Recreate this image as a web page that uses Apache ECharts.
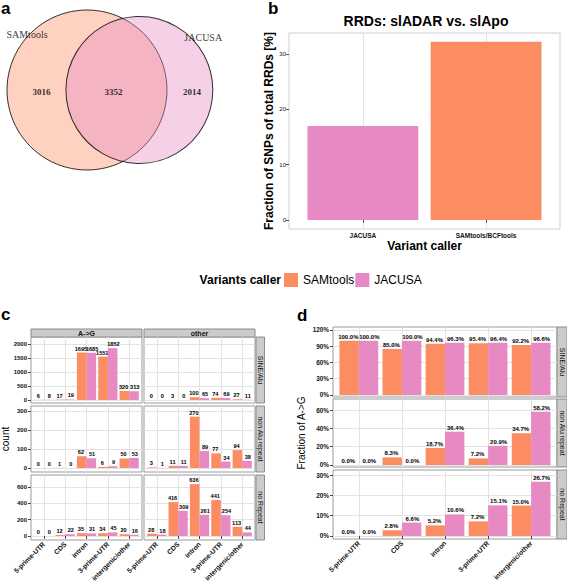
<!DOCTYPE html>
<html>
<head>
<meta charset="utf-8">
<script src="https://cdn.jsdelivr.net/npm/echarts@6.0.0/dist/echarts.min.js"></script>
<style>
html,body{margin:0;padding:0;background:#ffffff;}
#chart{width:567px;height:584px;}
</style>
</head>
<body>
<div id="chart"></div>
<script>
// ---------------- data ----------------
const vennSetNames = ['SAMtools', 'JACUSA'];
const vennCounts = [3016, 3352, 2014]; // SAMtools only, both, JACUSA only

const rrdCallers = ['JACUSA', 'SAMtools/BCFtools'];
const rrdFractions = [17.0, 32.2];
const rrdTicks = [0, 10, 20, 30];

const regions = ['5-prime-UTR', 'CDS', 'intron', '3-prime-UTR', 'intergenic/other'];
const repeatClasses = ['SINE/Alu', 'non Alu repeat', 'no Repeat'];
const mismatchTypes = ['A->G', 'other'];
const callers = ['SAMtools', 'JACUSA'];

const sineAG_SAM = [6, 17, 1695, 1551, 320];
const sineAG_JAC = [8, 19, 1685, 1852, 313];
const sineOther_SAM = [0, 3, 100, 74, 27];
const sineOther_JAC = [0, 0, 65, 69, 11];
const nonAluAG_SAM = [0, 1, 62, 6, 50];
const nonAluAG_JAC = [0, 0, 51, 9, 53];
const nonAluOther_SAM = [3, 11, 270, 77, 94];
const nonAluOther_JAC = [1, 11, 89, 34, 38];
const noRepAG_SAM = [0, 12, 35, 34, 20];
const noRepAG_JAC = [0, 22, 31, 45, 16];
const noRepOther_SAM = [28, 416, 636, 441, 113];
const noRepOther_JAC = [18, 309, 261, 254, 44];
const countTicks = [[0, 500, 1000, 1500, 2000], [0, 100, 200, 300], [0, 200, 400, 600]];

const fracSine_SAM = [100.0, 85.0, 94.4, 95.4, 92.2];
const fracSine_JAC = [100.0, 100.0, 96.3, 96.4, 96.6];
const fracNonAlu_SAM = [0.0, 8.3, 18.7, 7.2, 34.7];
const fracNonAlu_JAC = [0.0, 0.0, 36.4, 20.9, 58.2];
const fracNoRep_SAM = [0.0, 2.8, 5.2, 7.2, 15.0];
const fracNoRep_JAC = [0.0, 6.6, 10.6, 15.1, 26.7];
const fracTicks = [[0, 30, 60, 90, 120], [0, 20, 40, 60], [0, 10, 20, 30]];

// ---------------- styles / layout ----------------
const FONT = 'Liberation Sans, Arial, Helvetica, sans-serif';
const SERIF = 'Liberation Serif, Times New Roman, serif';
const COLORS = { SAMtools: '#FC8D62', JACUSA: '#E78AC3', 'SAMtools/BCFtools': '#FC8D62' };
const GRIDLINE = '#e3e3e3';
const PANEL_BORDER = '#9a9a9a';
const STRIP_FILL = '#cbcbcb';
const STRIP_BORDER = '#8c8c8c';

// Venn layout
const VENN_CX1 = 87, VENN_CY = 90, VENN_R1 = 80;
// Panel b
const B_GRID = { left: 289, top: 33, width: 271, height: 196 };
const B_YRANGE = [-1.63, 33.8];
// Panel c
const C_LEFT = [31, 144], C_W = 111;
const C_TOP = [337, 406, 475], C_H = [66, 66, 65];
const C_YRANGE = [[-107, 2250], [-21, 326], [-49, 748]];
const C_STRIP_TOP = 329, C_STRIP_H = 8, C_RSTRIP_X = 256, C_RSTRIP_W = 8.5;
// Panel d
const D_LEFT = 333, D_W = 224;
const D_TOP = [327, 399, 470], D_H = [70, 68, 69];
const D_YRANGE = [[-3.7, 125.5], [-2.2, 72.1], [-1.5, 32.5]];
const D_RSTRIP_X = 557, D_RSTRIP_W = 10;

const X_EXPAND = 0.6; // ggplot discrete expansion
const catPositions = regions.map((_, i) => i + 1);

// ---------------- venn geometry (area proportional) ----------------
function lensArea(r1, r2, d) {
  if (d >= r1 + r2) return 0;
  if (d <= Math.abs(r1 - r2)) return Math.PI * Math.min(r1, r2) ** 2;
  const a1 = Math.acos((d * d + r1 * r1 - r2 * r2) / (2 * d * r1));
  const a2 = Math.acos((d * d + r2 * r2 - r1 * r1) / (2 * d * r2));
  return r1 * r1 * a1 + r2 * r2 * a2 -
    0.5 * Math.sqrt((-d + r1 + r2) * (d + r1 - r2) * (d - r1 + r2) * (d + r1 + r2));
}
const totalLeft = vennCounts[0] + vennCounts[1];
const totalRight = vennCounts[2] + vennCounts[1];
const areaScale = Math.PI * VENN_R1 * VENN_R1 / totalLeft;
const vennR2 = Math.sqrt(areaScale * totalRight / Math.PI);
const targetLens = areaScale * vennCounts[1];
let lo = Math.abs(VENN_R1 - vennR2), hi = VENN_R1 + vennR2;
for (let i = 0; i < 60; i++) {
  const mid = (lo + hi) / 2;
  if (lensArea(VENN_R1, vennR2, mid) > targetLens) lo = mid; else hi = mid;
}
const vennD = (lo + hi) / 2;
const VENN_CX2 = VENN_CX1 + vennD;

// ---------------- option building ----------------
const grids = [], xAxes = [], yAxes = [], series = [], graphics = [];

function addGrid(box, show, border) {
  grids.push(Object.assign({
    show: show, borderColor: border || PANEL_BORDER, borderWidth: 1,
    backgroundColor: show ? '#ffffff' : 'transparent',
    containLabel: false, outerBoundsMode: 'none'
  }, box));
  return grids.length - 1;
}

// Panel a: Venn
const gA = addGrid({ left: 0, top: 0, width: 283, height: 240 }, false);
xAxes.push({ type: 'value', gridIndex: gA, min: 0, max: 283, show: false });
yAxes.push({ type: 'value', gridIndex: gA, min: 0, max: 240, inverse: true, show: false });
series.push({
  type: 'scatter', xAxisIndex: gA, yAxisIndex: gA, silent: true,
  symbol: 'circle', symbolSize: v => v[2],
  data: [
    { value: [VENN_CX1, VENN_CY, 2 * VENN_R1], itemStyle: { color: 'rgba(252,141,98,0.5)', borderColor: '#000', borderWidth: 1 } },
    { value: [VENN_CX2, VENN_CY, 2 * vennR2], itemStyle: { color: 'rgba(231,138,195,0.5)', borderColor: '#000', borderWidth: 1 } }
  ]
});
const vennLabelPts = [
  [VENN_CX1 - 0.75 * VENN_R1, VENN_CY - 0.69 * VENN_R1, vennSetNames[0], 10, 'normal'],
  [VENN_CX2 + 0.87 * vennR2, VENN_CY - 0.72 * vennR2, vennSetNames[1], 10, 'normal'],
  [((VENN_CX1 - VENN_R1) + (VENN_CX2 - vennR2)) / 2 + 5, VENN_CY + 2, String(vennCounts[0]), 9, 'bold'],
  [((VENN_CX2 - vennR2) + (VENN_CX1 + VENN_R1)) / 2 - 3, VENN_CY + 2, String(vennCounts[1]), 9, 'bold'],
  [((VENN_CX1 + VENN_R1) + (VENN_CX2 + vennR2)) / 2 + 2, VENN_CY + 2, String(vennCounts[2]), 9, 'bold']
];
series.push({
  type: 'scatter', xAxisIndex: gA, yAxisIndex: gA, silent: true,
  symbolSize: 1, itemStyle: { color: 'rgba(0,0,0,0)' },
  data: vennLabelPts.map(p => ({
    value: [p[0], p[1]],
    label: { show: true, position: 'inside', formatter: p[2], fontSize: p[3], fontWeight: p[4], fontFamily: SERIF, color: '#000' }
  }))
});

// Panel b
const gB = addGrid(B_GRID, true, '#cfcfcf');
const bPos = rrdCallers.map((_, i) => i + 1);
xAxes.push({
  type: 'value', gridIndex: gB, min: 1 - X_EXPAND, max: rrdCallers.length + X_EXPAND,
  axisLine: { show: false },
  axisTick: { show: true, customValues: bPos, length: 3, lineStyle: { color: '#555' } },
  axisLabel: { show: true, customValues: bPos, formatter: v => rrdCallers[v - 1], fontSize: 6.5, fontWeight: 'bold', color: '#111', margin: 3, fontFamily: FONT },
  splitLine: { show: true, lineStyle: { color: GRIDLINE } },
  name: 'Variant caller', nameLocation: 'middle', nameGap: 10,
  nameTextStyle: { fontSize: 12, fontWeight: 'bold', color: '#000', fontFamily: FONT }
});
yAxes.push({
  type: 'value', gridIndex: gB, min: B_YRANGE[0], max: B_YRANGE[1],
  axisLine: { show: false },
  axisTick: { show: true, customValues: rrdTicks, length: 3, lineStyle: { color: '#555' } },
  axisLabel: { show: true, customValues: rrdTicks, fontSize: 6, color: '#111', margin: 3, fontFamily: FONT },
  splitLine: { show: false },
  name: 'Fraction of SNPs of total RRDs [%]', nameLocation: 'middle', nameGap: 11, nameRotate: 90,
  nameTextStyle: { fontSize: 12, fontWeight: 'bold', color: '#000', fontFamily: FONT }
});
series.push({
  type: 'bar', name: 'rrd', xAxisIndex: gB, yAxisIndex: gB, silent: true,
  barWidth: 0.9 * B_GRID.width / (rrdCallers.length - 1 + 2 * X_EXPAND),
  data: rrdFractions.map((v, i) => ({ value: [bPos[i], v], itemStyle: { color: COLORS[rrdCallers[i]] } }))
});

// Panel c
const cData = [
  [[sineAG_SAM, sineAG_JAC], [sineOther_SAM, sineOther_JAC]],
  [[nonAluAG_SAM, nonAluAG_JAC], [nonAluOther_SAM, nonAluOther_JAC]],
  [[noRepAG_SAM, noRepAG_JAC], [noRepOther_SAM, noRepOther_JAC]]
];
const cBarW = 0.45 * C_W / (regions.length - 1 + 2 * X_EXPAND);

function catXAxis(g, showLabels) {
  return {
    type: 'value', gridIndex: g, min: 1 - X_EXPAND, max: regions.length + X_EXPAND,
    axisLine: { show: false },
    axisTick: { show: showLabels, customValues: catPositions, length: 3, lineStyle: { color: '#444' } },
    axisLabel: { show: showLabels, customValues: catPositions, formatter: v => regions[v - 1], rotate: 45, fontSize: 6.8, fontWeight: 'bold', color: '#111', margin: 3, fontFamily: FONT },
    splitLine: { show: true, lineStyle: { color: GRIDLINE } }
  };
}
function numYAxis(g, range, ticks, showLabels, fmt, fs) {
  return {
    type: 'value', gridIndex: g, min: range[0], max: range[1],
    axisLine: { show: false },
    axisTick: { show: showLabels, customValues: ticks, length: 3, lineStyle: { color: '#444' } },
    axisLabel: { show: showLabels, customValues: ticks, formatter: fmt, fontSize: fs, fontWeight: 'bold', color: '#111', margin: 4, fontFamily: FONT },
    splitLine: { show: true, lineStyle: { color: GRIDLINE } }
  };
}
function barPair(g, arrs, barW, fmt, fontSize) {
  callers.forEach((name, s) => {
    series.push({
      type: 'bar', name: name, xAxisIndex: g, yAxisIndex: g, silent: true,
      barWidth: barW, barGap: '0%',
      itemStyle: { color: COLORS[name] },
      label: { show: true, position: 'top', distance: 1, offset: [s === 0 ? -0.8 : 0.8, 0],
        fontSize: fontSize, fontWeight: 'bold', color: '#000', fontFamily: FONT, formatter: p => fmt(p.value[1]) },
      data: arrs[s].map((v, i) => [catPositions[i], v])
    });
  });
}

for (let r = 0; r < 3; r++) {
  for (let k = 0; k < 2; k++) {
    const g = addGrid({ left: C_LEFT[k], top: C_TOP[r], width: C_W, height: C_H[r] }, true);
    xAxes.push(catXAxis(g, r === 2));
    const ya = numYAxis(g, C_YRANGE[r], countTicks[r], k === 0, v => String(v), 6);
    if (r === 1 && k === 0) {
      Object.assign(ya, { name: 'count', nameLocation: 'middle', nameGap: 21, nameRotate: 90,
        nameTextStyle: { fontSize: 10, color: '#000', fontFamily: FONT } });
    }
    yAxes.push(ya);
    barPair(g, cData[r][k], cBarW, v => String(v), 5.6);
  }
}

// Panel d
const dData = [
  [fracSine_SAM, fracSine_JAC],
  [fracNonAlu_SAM, fracNonAlu_JAC],
  [fracNoRep_SAM, fracNoRep_JAC]
];
const dBarW = 0.45 * D_W / (regions.length - 1 + 2 * X_EXPAND);
for (let r = 0; r < 3; r++) {
  const g = addGrid({ left: D_LEFT, top: D_TOP[r], width: D_W, height: D_H[r] }, true);
  xAxes.push(catXAxis(g, r === 2));
  const ya = numYAxis(g, D_YRANGE[r], fracTicks[r], true, v => v + '%', 6.4);
  if (r === 1) {
    Object.assign(ya, { name: 'Fraction of A->G', nameLocation: 'middle', nameGap: 27, nameRotate: 90,
      nameTextStyle: { fontSize: 10, color: '#000', fontFamily: FONT } });
  }
  yAxes.push(ya);
  barPair(g, dData[r], dBarW, v => v.toFixed(1) + '%', 6);
}

// ---------------- graphics: strips, panel letters, legend title ----------------
function stripH(x, y, w, h, text) {
  graphics.push({ type: 'rect', silent: true, shape: { x: x, y: y, width: w, height: h },
    style: { fill: STRIP_FILL, stroke: STRIP_BORDER, lineWidth: 1 } });
  graphics.push({ type: 'text', silent: true, x: x + w / 2, y: y + h / 2,
    style: { text: text, fontSize: 7, fontWeight: 'bold', fontFamily: FONT, fill: '#111', textAlign: 'center', textVerticalAlign: 'middle' } });
}
function stripV(x, y, w, h, text) {
  graphics.push({ type: 'rect', silent: true, shape: { x: x, y: y, width: w, height: h },
    style: { fill: STRIP_FILL, stroke: STRIP_BORDER, lineWidth: 1 } });
  graphics.push({ type: 'text', silent: true, x: x + w / 2, y: y + h / 2, rotation: -Math.PI / 2,
    style: { text: text, fontSize: 7, fontFamily: FONT, fill: '#111', textAlign: 'center', textVerticalAlign: 'middle' } });
}
mismatchTypes.forEach((t, k) => stripH(C_LEFT[k], C_STRIP_TOP, C_W, C_STRIP_H, t));
repeatClasses.forEach((t, r) => stripV(C_RSTRIP_X, C_TOP[r], C_RSTRIP_W, C_H[r], t));
repeatClasses.forEach((t, r) => stripV(D_RSTRIP_X, D_TOP[r], D_RSTRIP_W, D_H[r], t));

[['a', 1, 8], ['b', 268, 8], ['c', 1, 314], ['d', 297, 315]].forEach(p => {
  graphics.push({ type: 'text', silent: true, x: p[1], y: p[2],
    style: { text: p[0], fontSize: 17, fontWeight: 'bold', fontFamily: FONT, fill: '#000', textAlign: 'left', textVerticalAlign: 'middle' } });
});
graphics.push({ type: 'text', silent: true, x: 281, y: 280,
  style: { text: 'Variants caller', fontSize: 12, fontWeight: 'bold', fontFamily: FONT, fill: '#000', textAlign: 'right', textVerticalAlign: 'middle' } });

const option = {
  animation: false,
  backgroundColor: '#ffffff',
  textStyle: { fontFamily: FONT },
  title: {
    text: 'RRDs: slADAR vs. slApo', left: 426, top: 14, textAlign: 'center', padding: 0,
    textStyle: { fontSize: 14, fontWeight: 'bold', color: '#000', fontFamily: FONT }
  },
  legend: {
    data: callers, left: 284, top: 273, orient: 'horizontal', padding: 0,
    itemWidth: 14, itemHeight: 14, itemGap: 1, icon: 'rect', selectedMode: false,
    textStyle: { fontSize: 12, color: '#000', fontFamily: FONT }
  },
  grid: grids,
  xAxis: xAxes,
  yAxis: yAxes,
  series: series,
  graphic: { elements: graphics }
};

const chart = echarts.init(document.getElementById('chart'), null, { renderer: 'svg', width: 567, height: 584 });
chart.setOption(option);
</script>
</body>
</html>
